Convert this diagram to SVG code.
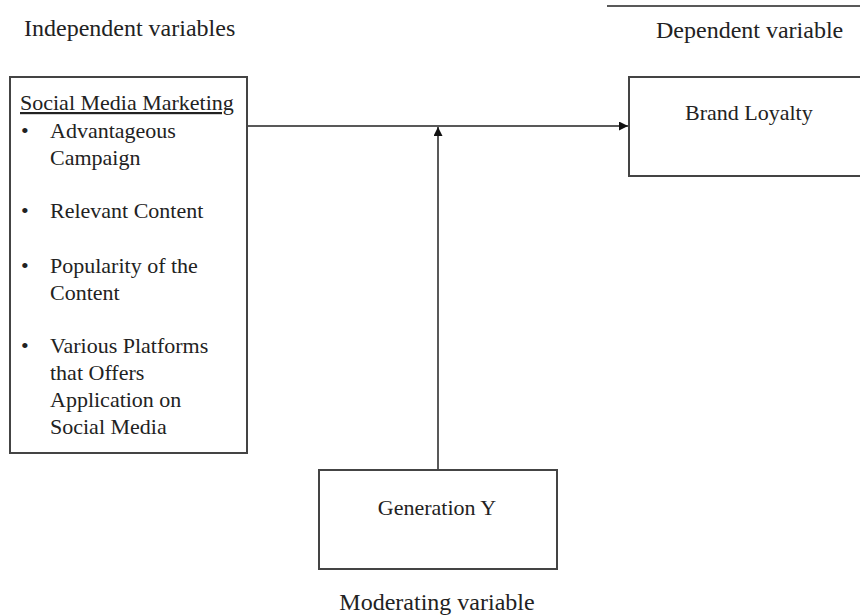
<svg xmlns="http://www.w3.org/2000/svg" width="860" height="616" viewBox="0 0 860 616">
<style>
text{font-family:"Liberation Serif","Times New Roman",serif;font-size:22px;fill:#222}
.lbl{font-size:24px}
.box{fill:#fff;stroke:#444;stroke-width:2}
.ln{stroke:#222;stroke-width:1.5;fill:none}
</style>
<defs>
<marker id="ah" viewBox="0 0 10 10" refX="10" refY="5" markerWidth="9" markerHeight="9" markerUnits="userSpaceOnUse" orient="auto"><path d="M0,0L10,5L0,10z" fill="#111"/></marker>
</defs>
<rect width="860" height="616" fill="#fff"/>
<line x1="607" y1="6" x2="860" y2="6" stroke="#222" stroke-width="1.5"/>
<text class="lbl" x="24" y="36">Independent variables</text>
<text class="lbl" x="656" y="38">Dependent variable</text>
<text class="lbl" x="437" y="610" text-anchor="middle">Moderating variable</text>
<g id="connectors">
<line class="ln" x1="247" y1="126" x2="628" y2="126" marker-end="url(#ah)"/>
<line class="ln" x1="438" y1="470" x2="438" y2="127" marker-end="url(#ah)"/>
</g>
<g id="social-media-marketing">
<rect class="box" x="10" y="77" width="237" height="376"/>
<text x="20" y="110" text-decoration="underline">Social Media Marketing</text>
<text x="21" y="138">•</text><text x="50" y="138">Advantageous</text>
<text x="50" y="165">Campaign</text>
<text x="21" y="218">•</text><text x="50" y="218">Relevant Content</text>
<text x="21" y="273">•</text><text x="50" y="273">Popularity of the</text>
<text x="50" y="300">Content</text>
<text x="21" y="353">•</text><text x="50" y="353">Various Platforms</text>
<text x="50" y="380">that Offers</text>
<text x="50" y="407">Application on</text>
<text x="50" y="434">Social Media</text>
</g>
<g id="brand-loyalty">
<rect class="box" x="629" y="77" width="240" height="99"/>
<text x="685" y="120">Brand Loyalty</text>
</g>
<g id="generation-y">
<rect class="box" x="319" y="470" width="238" height="99"/>
<text x="437" y="515" text-anchor="middle">Generation Y</text>
</g>
</svg>
